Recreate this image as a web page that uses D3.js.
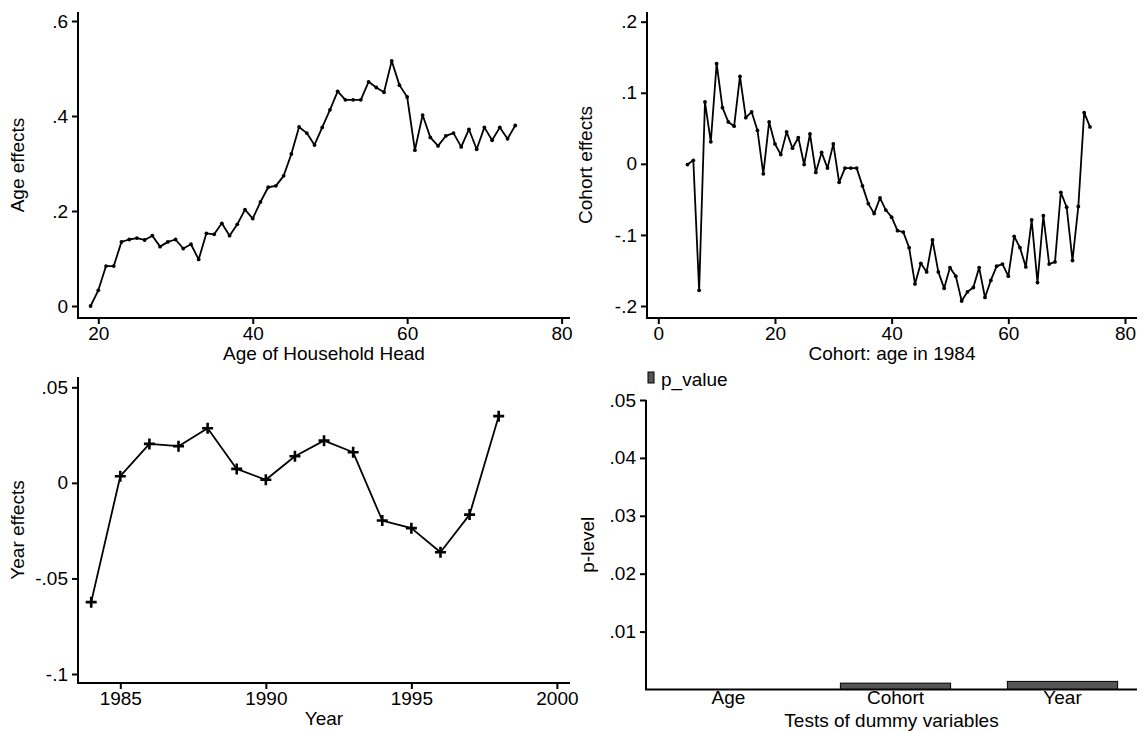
<!DOCTYPE html>
<html>
<head>
<meta charset="utf-8">
<script src="https://cdn.jsdelivr.net/npm/d3@7"></script>
<style>
  html, body { margin: 0; padding: 0; background: #fff; }
  svg { display: block; }
  text { font-family: "Liberation Sans", Arial, sans-serif; fill: #000; }
</style>
</head>
<body>
<svg id="chart" width="1146" height="731"></svg>
<script>
// ---- data ----
const ages = d3.range(19, 75);
const ageEffects = [
  0.000, 0.033, 0.084, 0.084, 0.135, 0.140, 0.143, 0.139, 0.148, 0.125,
  0.135, 0.140, 0.121, 0.130, 0.098, 0.153, 0.151, 0.174, 0.148, 0.172,
  0.203, 0.184, 0.219, 0.250, 0.253, 0.274, 0.320, 0.377, 0.364, 0.339,
  0.376, 0.413, 0.452, 0.434, 0.434, 0.434, 0.472, 0.460, 0.450, 0.516,
  0.465, 0.440, 0.328, 0.402, 0.355, 0.337, 0.358, 0.364, 0.335, 0.372,
  0.330, 0.376, 0.349, 0.376, 0.352, 0.380
];

const cohorts = d3.range(5, 75);
const cohortEffects = [
  -0.001, 0.005, -0.178, 0.087, 0.031, 0.141, 0.079, 0.059, 0.053, 0.123,
  0.065, 0.073, 0.047, -0.014, 0.059, 0.028, 0.013, 0.045, 0.022, 0.037,
  -0.001, 0.042, -0.012, 0.016, -0.006, 0.028, -0.026, -0.006, -0.006, -0.006,
  -0.031, -0.056, -0.070, -0.048, -0.065, -0.075, -0.094, -0.096, -0.118, -0.169,
  -0.140, -0.152, -0.107, -0.152, -0.175, -0.146, -0.158, -0.193, -0.180, -0.174,
  -0.146, -0.188, -0.164, -0.144, -0.141, -0.158, -0.102, -0.118, -0.145, -0.079,
  -0.167, -0.073, -0.141, -0.138, -0.040, -0.061, -0.136, -0.060, 0.072, 0.052
];

const years = d3.range(1984, 1999);
const yearEffects = [
  -0.0624, 0.0035, 0.0204, 0.0192, 0.0286, 0.0073, 0.0016, 0.0139,
  0.0221, 0.0160, -0.0197, -0.0237, -0.0363, -0.0166, 0.0349
];

const tests = ["Age", "Cohort", "Year"];
const pValues = [0.0000, 0.0011, 0.0014];

const ageTicksX = [20, 40, 60, 80];
const ageTicksY = [0, 0.2, 0.4, 0.6];
const cohortTicksX = [0, 20, 40, 60, 80];
const cohortTicksY = [-0.2, -0.1, 0, 0.1, 0.2];
const yearTicksX = [1985, 1990, 1995, 2000];
const yearTicksY = [-0.1, -0.05, 0, 0.05];
const pTicksY = [0.01, 0.02, 0.03, 0.04, 0.05];

// ---- helpers ----
const svg = d3.select("#chart");
const FONT = 19;

// numbers written without a leading zero: .05, -.1
function stataNum(v) {
  if (Math.abs(v) < 1e-12) return "0";
  let s = String(+v.toFixed(4));
  return s.replace(/^0\./, ".").replace(/^-0\./, "-.");
}

function frame(p) {
  const g = svg.append("g");
  g.append("line")
    .attr("x1", p.left).attr("x2", p.left)
    .attr("y1", p.top).attr("y2", p.bottom)
    .attr("stroke", "#000").attr("stroke-width", 2);
  g.append("line")
    .attr("x1", p.left - 1).attr("x2", p.right)
    .attr("y1", p.bottom).attr("y2", p.bottom)
    .attr("stroke", "#000").attr("stroke-width", 2);
  return g;
}

function yAxis(p, y, ticks) {
  const g = svg.append("g")
    .attr("transform", `translate(${p.left},0)`)
    .call(d3.axisLeft(y).tickValues(ticks).tickSize(6).tickPadding(4)
      .tickFormat(stataNum));
  g.select(".domain").remove();
  g.selectAll(".tick line").attr("stroke", "#000").attr("stroke-width", 2);
  g.selectAll(".tick text").attr("font-size", FONT)
    .style("font-family", '"Liberation Sans", Arial, sans-serif').attr("fill", "#000");
}

function xAxis(p, x, ticks, fmt) {
  const g = svg.append("g")
    .attr("transform", `translate(0,${p.bottom})`)
    .call(d3.axisBottom(x).tickValues(ticks).tickSize(6).tickPadding(3)
      .tickFormat(fmt || (d => d)));
  g.select(".domain").remove();
  g.selectAll(".tick line").attr("stroke", "#000").attr("stroke-width", 2);
  g.selectAll(".tick text").attr("font-size", FONT)
    .style("font-family", '"Liberation Sans", Arial, sans-serif').attr("fill", "#000");
  return g;
}

function titles(p, xTitle, yTitle, xTitleDy, yTitleX) {
  svg.append("text")
    .attr("x", (p.left + p.right) / 2)
    .attr("y", p.bottom + xTitleDy)
    .attr("text-anchor", "middle")
    .attr("font-size", FONT)
    .text(xTitle);
  svg.append("text")
    .attr("transform", `translate(${yTitleX},${(p.top + p.bottom) / 2}) rotate(-90)`)
    .attr("text-anchor", "middle")
    .attr("dy", "0.35em")
    .attr("font-size", FONT)
    .text(yTitle);
}

// ---- panel 1: age effects ----
{
  const p = { left: 78, right: 570, top: 12, bottom: 318 };
  const x = d3.scaleLinear().domain([20, 80]).range([98.3, 561.6]);
  const y = d3.scaleLinear().domain([0, 0.6]).range([306, 21]);
  frame(p);
  yAxis(p, y, ageTicksY);
  xAxis(p, x, ageTicksX);
  titles(p, "Age of Household Head", "Age effects", 42, 17);
  const pts = ages.map((a, i) => [a, ageEffects[i]]);
  svg.append("path").datum(pts)
    .attr("fill", "none").attr("stroke", "#000").attr("stroke-width", 1.8)
    .attr("stroke-linejoin", "round")
    .attr("d", d3.line().x(d => x(d[0])).y(d => y(d[1])));
  svg.append("g").selectAll("circle").data(pts).join("circle")
    .attr("cx", d => x(d[0])).attr("cy", d => y(d[1])).attr("r", 1.9)
    .attr("fill", "#000");
}

// ---- panel 2: cohort effects ----
{
  const p = { left: 647, right: 1137, top: 12, bottom: 318 };
  const x = d3.scaleLinear().domain([0, 80]).range([658.3, 1125]);
  const y = d3.scaleLinear().domain([-0.2, 0.2]).range([306, 21.7]);
  frame(p);
  yAxis(p, y, cohortTicksY);
  xAxis(p, x, cohortTicksX);
  titles(p, "Cohort: age in 1984", "Cohort effects", 42, 585);
  const pts = cohorts.map((c, i) => [c, cohortEffects[i]]);
  svg.append("path").datum(pts)
    .attr("fill", "none").attr("stroke", "#000").attr("stroke-width", 1.8)
    .attr("stroke-linejoin", "round")
    .attr("d", d3.line().x(d => x(d[0])).y(d => y(d[1])));
  svg.append("g").selectAll("circle").data(pts).join("circle")
    .attr("cx", d => x(d[0])).attr("cy", d => y(d[1])).attr("r", 1.9)
    .attr("fill", "#000");
}

// ---- panel 3: year effects ----
{
  const p = { left: 78, right: 570, top: 377, bottom: 683 };
  const x = d3.scaleLinear().domain([1985, 2000]).range([120.3, 556.9]);
  const y = d3.scaleLinear().domain([-0.1, 0.05]).range([674, 387.3]);
  frame(p);
  yAxis(p, y, yearTicksY);
  xAxis(p, x, yearTicksX);
  titles(p, "Year", "Year effects", 42, 17);
  const pts = years.map((t, i) => [t, yearEffects[i]]);
  svg.append("path").datum(pts)
    .attr("fill", "none").attr("stroke", "#000").attr("stroke-width", 1.8)
    .attr("stroke-linejoin", "round")
    .attr("d", d3.line().x(d => x(d[0])).y(d => y(d[1])));
  // plus-sign markers
  svg.append("g").selectAll("path").data(pts).join("path")
    .attr("transform", d => `translate(${x(d[0])},${y(d[1])})`)
    .attr("d", "M-5.5,0H5.5M0,-5.5V5.5")
    .attr("stroke", "#000").attr("stroke-width", 2.6).attr("fill", "none");
}

// ---- panel 4: p-values of the dummy-variable tests ----
{
  const p = { left: 646, right: 1137, top: 400, bottom: 689.5 };
  const x = d3.scaleBand().domain(tests).range([645, 1146]).padding(0);
  const y = d3.scaleLinear().domain([0, 0.05]).range([689.5, 400]);
  const barW = x.bandwidth() * 0.66;
  svg.append("g").selectAll("rect").data(tests).join("rect")
    .attr("x", d => x(d) + (x.bandwidth() - barW) / 2)
    .attr("y", (d, i) => y(pValues[i]))
    .attr("width", barW)
    .attr("height", (d, i) => y(0) - y(pValues[i]))
    .attr("fill", "#555")
    .attr("stroke", "#000").attr("stroke-width", 1);
  frame(p);
  yAxis(p, y, pTicksY);
  const g = xAxis(p, x, tests);
  g.selectAll(".tick line").remove();
  g.selectAll(".tick text").attr("y", 1);
  titles(p, "Tests of dummy variables", "p-level", 37, 587);

  // legend
  const lg = svg.append("g");
  lg.append("rect")
    .attr("x", 648).attr("y", 372).attr("width", 6).attr("height", 11)
    .attr("fill", "#555").attr("stroke", "#000").attr("stroke-width", 1);
  lg.append("text")
    .attr("x", 661).attr("y", 386)
    .attr("font-size", FONT)
    .text("p_value");
}
</script>
</body>
</html>
